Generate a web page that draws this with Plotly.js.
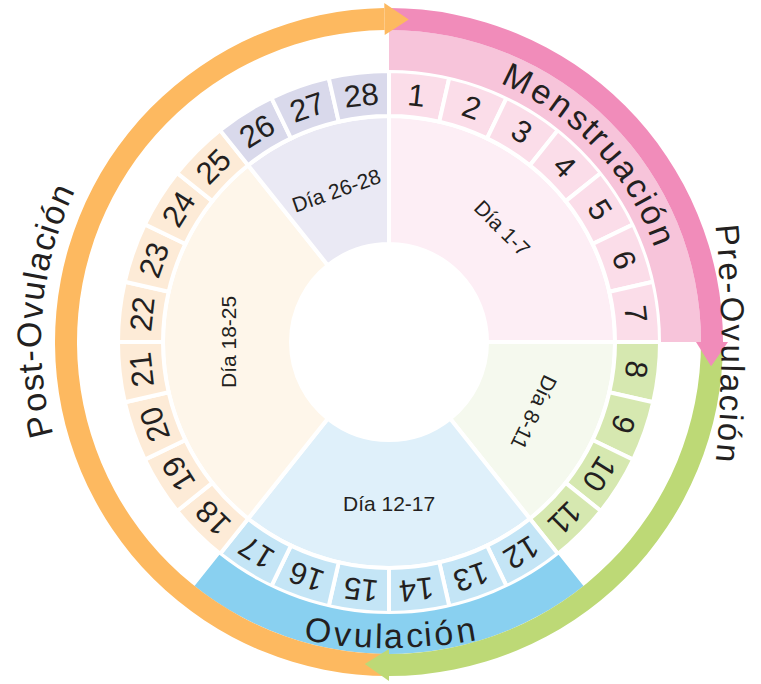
<!DOCTYPE html>
<html><head><meta charset="utf-8">
<script src="https://cdn.plot.ly/plotly-3.0.1.min.js"></script>
<style>html,body{margin:0;padding:0;background:#fff}</style>
</head><body><div id="chart" style="width:761px;height:684px"></div>
<script>
// ---------- data ----------
const dayNumbers = [1,2,3,4,5,6,7,8,9,10,11,12,13,14,15,16,17,18,19,20,21,22,23,24,25,26,27,28];
const dayLabels = ['1','2','3','4','5','6','7','8','9','10','11','12','13','14','15','16','17','18','19','20','21','22','23','24','25','26','27','28'];
const phaseNames = ['Día 1-7','Día 8-11','Día 12-17','Día 18-25','Día 26-28'];
const phaseFirstDay = [1, 8, 12, 18, 26];
const phaseLastDay = [7, 11, 17, 25, 28];
const phaseFillColors = ['#fdeef5','#f5f9ee','#dff0fa','#fef6ea','#eae9f4'];
const phaseBoxColors = ['#fbdde9','#d6e8b0','#c4e5f6','#fdebd7','#d9d9eb'];
const bandNames = ['Menstruación','Ovulación'];
const bandFirstDay = [1, 12];
const bandLastDay = [7, 17];
const bandColors = ['#f7c4da','#89d0f0'];
const arrowNames = ['Menstruación','Pre-Ovulación','Post-Ovulación'];
const arrowStartDeg = [0, 90, 180];
const arrowEndDeg = [90, 180, 359.2];
const arrowColors = ['#f18cba','#bdd976','#fdb960'];

// ---------- geometry ----------
const W = 761, H = 684;
const CX = 389, CY = 342, RPX = 342;
const DEG = 360 / dayNumbers.length;
const TXT = '#231f20';
const FONT = 'Liberation Sans, Arial, sans-serif';

function phaseOfDay(d){ for(let i=0;i<phaseFirstDay.length;i++){ if(d>=phaseFirstDay[i] && d<=phaseLastDay[i]) return i; } return 0; }
function dayCenter(d){ return (d-0.5)*DEG; }
function spanCenter(a,b){ return ((a-1)+b)/2*DEG; }
function spanWidth(a,b){ return (b-a+1)*DEG; }
function norm(a){ a = ((a%360)+360)%360; return a>180 ? a-360 : a; }
function toPaper(px,py){ return {x:px/W, y:1-py/H}; }
function polarPx(theta, r, cx, cy){ const t=theta*Math.PI/180; return [ (cx===undefined?CX:cx) + r*Math.sin(t), (cy===undefined?CY:cy) - r*Math.cos(t) ]; }

const traces = [];
// phase ring
traces.push({type:'barpolar', hoverinfo:'skip',
  theta: phaseNames.map((n,i)=>spanCenter(phaseFirstDay[i],phaseLastDay[i])),
  width: phaseNames.map((n,i)=>spanWidth(phaseFirstDay[i],phaseLastDay[i])),
  r: phaseNames.map(()=>128), base: phaseNames.map(()=>98),
  marker:{color: phaseFillColors, line:{color:'#ffffff', width:4}}});
// day boxes
traces.push({type:'barpolar', hoverinfo:'skip',
  theta: dayNumbers.map(dayCenter), width: dayNumbers.map(()=>DEG),
  r: dayNumbers.map(()=>45), base: dayNumbers.map(()=>226),
  marker:{color: dayNumbers.map(d=>phaseBoxColors[phaseOfDay(d)]), line:{color:'#ffffff', width:4}}});
// outer bands
traces.push({type:'barpolar', hoverinfo:'skip',
  theta: bandNames.map((n,i)=>spanCenter(bandFirstDay[i],bandLastDay[i])),
  width: bandNames.map((n,i)=>spanWidth(bandFirstDay[i],bandLastDay[i])),
  r: bandNames.map(()=>40), base: bandNames.map(()=>272),
  marker:{color: bandColors, line:{width:0}}});
// arrow bands
traces.push({type:'barpolar', hoverinfo:'skip',
  theta: arrowNames.map((n,i)=>(arrowStartDeg[i]+arrowEndDeg[i])/2),
  width: arrowNames.map((n,i)=>arrowEndDeg[i]-arrowStartDeg[i]),
  r: arrowNames.map(()=>22), base: arrowNames.map(()=>312),
  marker:{color: arrowColors, line:{width:0}}});
// arrow heads
arrowNames.forEach((n,i)=>{
  const e = arrowEndDeg[i];
  traces.push({type:'scatterpolar', mode:'lines', hoverinfo:'skip', fill:'toself',
    fillcolor: arrowColors[i], line:{width:0, color: arrowColors[i]},
    theta:[e, e+4.3, e, e], r:[307, 323, 339, 307]});
});

// ---------- annotations ----------
const ann = [];
dayNumbers.forEach((d,i)=>{
  const th = dayCenter(d);
  const p = polarPx(th, 248.5); const q = toPaper(p[0],p[1]);
  ann.push({xref:'paper', yref:'paper', x:q.x, y:q.y, text:dayLabels[i], showarrow:false,
    xanchor:'center', yanchor:'middle', textangle: norm(th), font:{family:FONT, size:31, color:TXT}});
});
phaseNames.forEach((n,i)=>{
  const th = spanCenter(phaseFirstDay[i], phaseLastDay[i]);
  let ang = norm(th); if (Math.abs(ang) > 135) ang = norm(ang+180);
  const p = polarPx(th, 161); const q = toPaper(p[0],p[1]);
  ann.push({xref:'paper', yref:'paper', x:q.x, y:q.y, text:n, showarrow:false,
    xanchor:'center', yanchor:'middle', textangle: ang, font:{family:FONT, size:21, color:TXT}});
});

const cvs = document.createElement('canvas').getContext('2d');
function arcText(str, cx, cy, R, th0, th1, size, flip){
  cvs.font = size + 'px "Liberation Sans"';
  const chars = Array.from(str);
  const w = chars.map(c=>cvs.measureText(c).width);
  const centers = []; let acc = 0;
  w.forEach(v=>{ centers.push(acc + v/2); acc += v; });
  const c0 = centers[0], c1 = centers[centers.length-1];
  chars.forEach((c,i)=>{
    const t = (centers[i]-c0)/(c1-c0);
    const th = th0 + t*(th1-th0);
    const p = polarPx(th, R, cx, cy); const q = toPaper(p[0],p[1]);
    ann.push({xref:'paper', yref:'paper', x:q.x, y:q.y, text:c, showarrow:false,
      xanchor:'center', yanchor:'middle', textangle: norm(flip ? th-180 : th),
      font:{family:FONT, size:size, color:TXT}});
  });
}
arcText(bandNames[0], CX, CY, 294, 26, 68.6, 34, false);
arcText(bandNames[1], 390, 186, 450, 189.2, 170.4, 34, true);
arcText(arrowNames[1], 733-1200, CY, 1200, 84.9, 95.3, 33, false);
arcText(arrowNames[2], CX, CY, 360, 256.5, 294.2, 34, false);

const layout = {
  width: W, height: H, margin:{l:0,r:0,t:0,b:0}, paper_bgcolor:'#ffffff', showlegend:false,
  polar:{
    domain:{x:[(CX-RPX)/W, (CX+RPX)/W], y:[0,1]},
    bgcolor:'rgba(0,0,0,0)', hole:0,
    radialaxis:{visible:false, range:[0,RPX]},
    angularaxis:{visible:false, rotation:90, direction:'clockwise'}
  },
  annotations: ann
};
Plotly.newPlot('chart', traces, layout, {displayModeBar:false, staticPlot:true});
</script></body></html>
